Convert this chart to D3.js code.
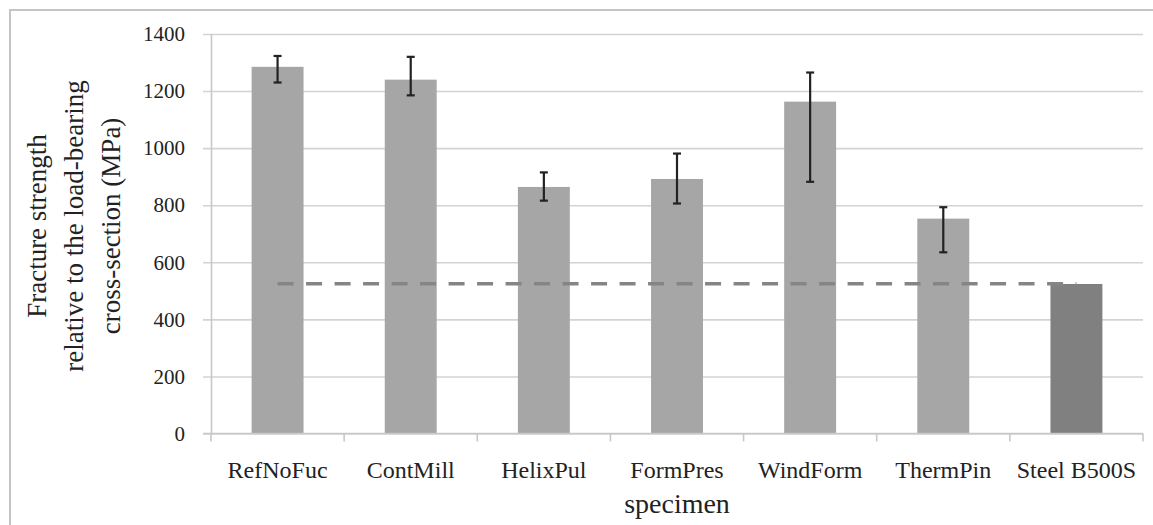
<!DOCTYPE html>
<html>
<head>
<meta charset="utf-8">
<script src="https://cdn.jsdelivr.net/npm/d3@7"></script>
<style>
    body { margin: 0; background: #fff; }
    svg text { font-family: "Liberation Serif", "Times New Roman", serif; fill: #222; }
</style>
</head>
<body>
<svg width="1153" height="525"></svg>
<script>
const specimens = ["RefNoFuc", "ContMill", "HelixPul", "FormPres", "WindForm", "ThermPin", "Steel B500S"];
const strength = [1285, 1240, 864, 892, 1163, 753, 524];
const errLow = [1230, 1185, 816, 806, 882, 635, null];
const errHigh = [1323, 1320, 915, 981, 1265, 793, null];
const steelRef = 525;
const yTicks = [0, 200, 400, 600, 800, 1000, 1200, 1400];
const yTitle = ["Fracture strength", "relative to the load-bearing", "cross-section (MPa)"];
const xTitle = "specimen";

const svg = d3.select("svg");
const serif = '"Liberation Serif", "Times New Roman", serif';

const rows = specimens.map((name, i) => ({
    name,
    value: strength[i],
    lo: errLow[i],
    hi: errHigh[i],
    steel: name === "Steel B500S"
}));

const x = d3.scaleBand()
    .domain(specimens)
    .range([211, 1143])
    .paddingInner(0.61)
    .paddingOuter(0.305);

const y = d3.scaleLinear()
    .domain([0, 1400])
    .range([433.5, 34]);

// outer frame
svg.append("rect")
    .attr("x", 10).attr("y", 10)
    .attr("width", 1200).attr("height", 600)
    .attr("fill", "none")
    .attr("stroke", "#c4c4c4")
    .attr("stroke-width", 2);

// gridlines + y labels
const yAxis = svg.append("g")
    .attr("transform", "translate(211,0)")
    .call(d3.axisLeft(y).tickValues(yTicks).tickSize(-932).tickPadding(26).tickFormat(d3.format("d")))
    .attr("font-family", serif)
    .attr("font-size", 21);
yAxis.select(".domain").remove();
yAxis.selectAll(".tick line")
    .attr("x1", -8)
    .attr("stroke", "#d3d3d3")
    .attr("stroke-width", 1.6);
yAxis.selectAll(".tick text")
    .attr("fill", "#222");

// y axis line
svg.append("line")
    .attr("x1", 211.5).attr("x2", 211.5)
    .attr("y1", y(1400)).attr("y2", y(0))
    .attr("stroke", "#c8c8c8")
    .attr("stroke-width", 1.6);

// bars
svg.append("g").selectAll("rect")
    .data(rows)
    .enter().append("rect")
    .attr("x", d => x(d.name))
    .attr("y", d => y(d.value))
    .attr("width", x.bandwidth())
    .attr("height", d => y(0) - y(d.value))
    .attr("fill", d => d.steel ? "#808080" : "#a6a6a6");

// x axis
const xAxis = svg.append("g")
    .attr("transform", `translate(0,${y(0)})`)
    .call(d3.axisBottom(x).tickSize(0).tickPadding(27))
    .attr("font-family", serif)
    .attr("font-size", 24);
xAxis.select(".domain")
    .attr("d", "M203,0H1143")
    .attr("stroke", "#c8c8c8")
    .attr("stroke-width", 1.6);
xAxis.selectAll(".tick text")
    .attr("fill", "#222");

const bounds = specimens.map(s => x(s) - x.step() * x.paddingInner() / 2).concat([1143]);
xAxis.selectAll("line.sep")
    .data(bounds)
    .enter().append("line")
    .attr("class", "sep")
    .attr("x1", d => d).attr("x2", d => d)
    .attr("y1", 0).attr("y2", 8)
    .attr("stroke", "#c8c8c8")
    .attr("stroke-width", 1.6);

// steel reference line
const refLine = d3.line()
    .x(d => x(d) + x.bandwidth() / 2)
    .y(() => y(steelRef));
svg.append("path")
    .datum([specimens[0], specimens[specimens.length - 1]])
    .attr("d", refLine)
    .attr("fill", "none")
    .attr("stroke", "#858585")
    .attr("stroke-width", 3.6)
    .attr("stroke-dasharray", "16 12.5");

// error bars
const errs = svg.append("g").selectAll("g")
    .data(rows.filter(d => d.lo != null))
    .enter().append("g")
    .attr("stroke", "#222")
    .attr("stroke-width", 2.2);
errs.append("line")
    .attr("x1", d => x(d.name) + x.bandwidth() / 2)
    .attr("x2", d => x(d.name) + x.bandwidth() / 2)
    .attr("y1", d => y(d.hi))
    .attr("y2", d => y(d.lo));
errs.selectAll("line.cap")
    .data(d => [d.lo, d.hi].map(v => ({name: d.name, v})))
    .enter().append("line")
    .attr("class", "cap")
    .attr("x1", d => x(d.name) + x.bandwidth() / 2 - 4)
    .attr("x2", d => x(d.name) + x.bandwidth() / 2 + 4)
    .attr("y1", d => y(d.v))
    .attr("y2", d => y(d.v));

// titles
const yt = svg.append("text")
    .attr("transform", "translate(0,226) rotate(-90)")
    .attr("text-anchor", "middle")
    .attr("font-size", 27);
yTitle.forEach((line, i) => {
    yt.append("tspan")
        .attr("x", 0)
        .attr("y", 46 + i * 37)
        .text(line);
});

svg.append("text")
    .attr("x", 677)
    .attr("y", 513)
    .attr("text-anchor", "middle")
    .attr("font-size", 28)
    .text(xTitle);
</script>
</body>
</html>
